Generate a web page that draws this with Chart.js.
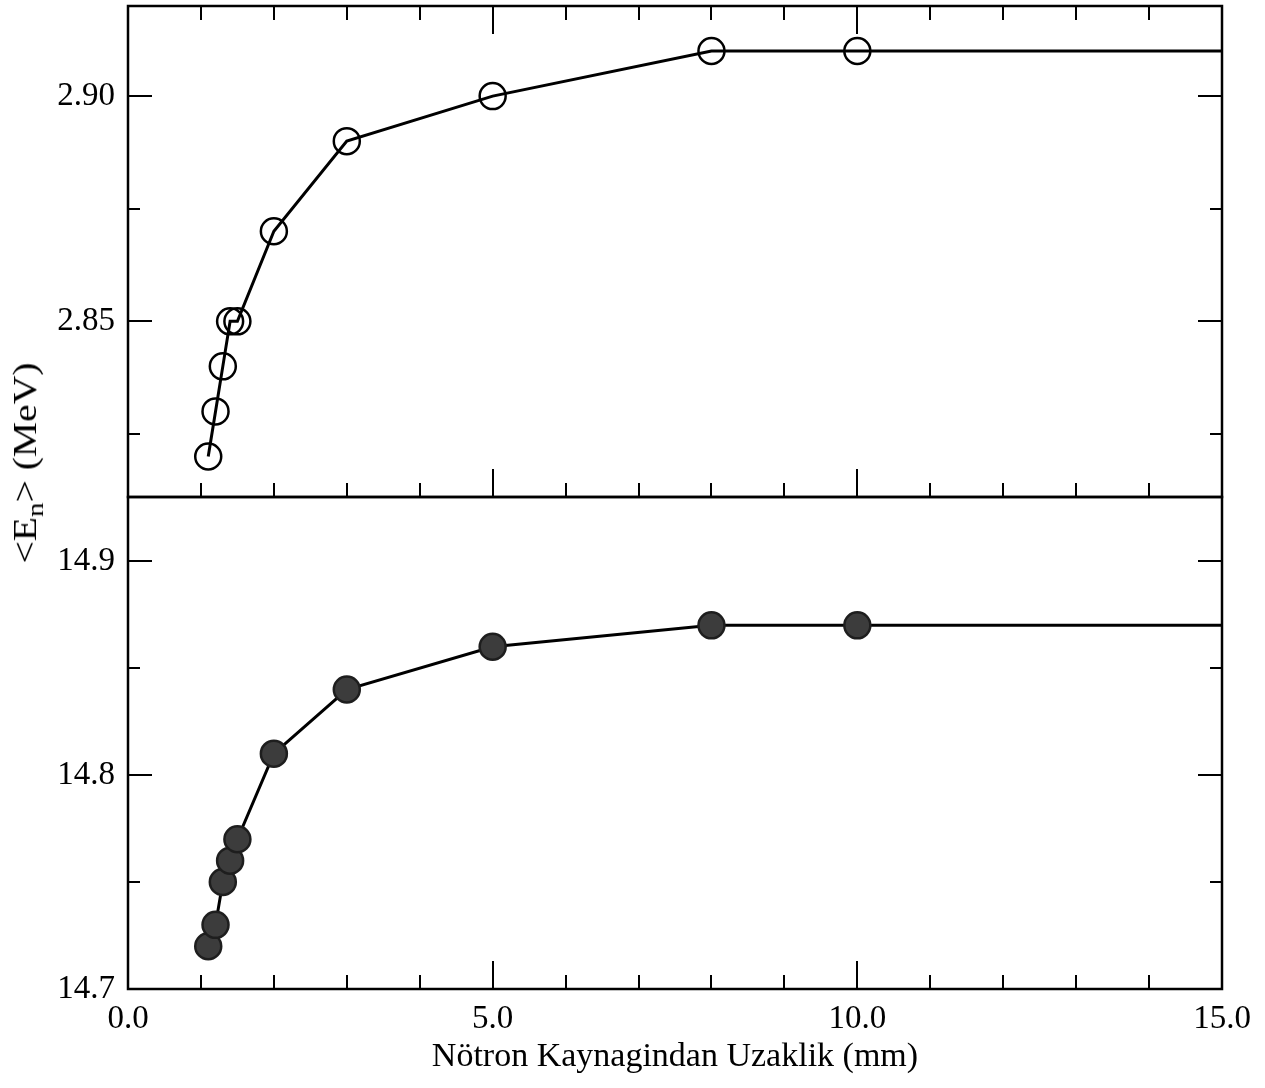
<!DOCTYPE html>
<html>
<head>
<meta charset="utf-8">
<title>Nötron enerjisi</title>
<script src="https://cdn.jsdelivr.net/npm/chart.js@4.4.0/dist/chart.umd.min.js"></script>
<style>
  html, body { margin: 0; padding: 0; background: #fff; }
  #wrap { position: relative; width: 1265px; height: 1088px; }
  #wrap canvas { position: absolute; left: 0; top: 0; }
  #yTitle {
    position: absolute; left: 28px; top: 463px;
    transform: translate(-50%, -50%) rotate(-90deg) scaleX(1.2);
    font-family: 'Liberation Serif', serif; font-size: 33px;
    white-space: nowrap; color: #000;
  }
  #yTitle sub { font-size: 24px; vertical-align: -7px; }
</style>
</head>
<body>
<div id="wrap">
  <canvas id="topChart" width="1265" height="1088"></canvas>
  <canvas id="bottomChart" width="1265" height="1088"></canvas>
  <div id="yTitle">&lt;E<sub>n</sub>&gt; (MeV)</div>
</div>
<script>
// distance from the neutron source (mm); last entry only carries the line to the edge
const distance = [1.1, 1.2, 1.3, 1.4, 1.5, 2.0, 3.0, 5.0, 8.0, 10.0, 15.0];
// mean neutron energy, upper panel (open circles)
const energyLow = [2.82, 2.83, 2.84, 2.85, 2.85, 2.87, 2.89, 2.90, 2.91, 2.91, 2.91];
// mean neutron energy, lower panel (filled circles)
const energyHigh = [14.72, 14.73, 14.75, 14.76, 14.77, 14.81, 14.84, 14.86, 14.87, 14.87, 14.87];

const xLabelEvery = 5;     // 0.0, 5.0, 10.0, 15.0
const FONT = 'Liberation Serif';

function isMultiple(v, step) {
  const r = v / step;
  return Math.abs(r - Math.round(r)) < 1e-6;
}

// frame + inward tick marks, placed with the chart's own scales
const frameTicks = {
  id: 'frameTicks',
  afterDatasetsDraw(chart, args, opts) {
    const { ctx, chartArea: a, scales: { x, y } } = chart;
    ctx.save();
    ctx.strokeStyle = '#000';
    ctx.lineWidth = 2;
    ctx.beginPath();
    for (let v = Math.ceil(x.min / opts.xStep - 1e-9) * opts.xStep; v <= x.max + 1e-9; v += opts.xStep) {
      const px = Math.round(x.getPixelForValue(v));
      const len = isMultiple(v, opts.xMajor) ? 28 : 14;
      if (opts.sides.includes('bottom')) { ctx.moveTo(px, a.bottom); ctx.lineTo(px, a.bottom - len); }
      if (opts.sides.includes('top')) { ctx.moveTo(px, a.top); ctx.lineTo(px, a.top + len); }
    }
    for (let v = Math.ceil(y.min / opts.yStep - 1e-9) * opts.yStep; v <= y.max + 1e-9; v += opts.yStep) {
      const py = Math.round(y.getPixelForValue(v));
      const len = isMultiple(v, opts.yMajor) ? 24 : 12;
      ctx.moveTo(a.left, py); ctx.lineTo(a.left + len, py);
      ctx.moveTo(a.right, py); ctx.lineTo(a.right - len, py);
    }
    ctx.stroke();
    ctx.lineWidth = 2.5;
    ctx.strokeRect(a.left, a.top, a.right - a.left, a.bottom - a.top);
    ctx.restore();
  }
};

function makeDataset(values, fill) {
  return {
    data: distance.map((d, i) => ({ x: d, y: values[i] })),
    borderColor: '#000',
    borderWidth: 3,
    tension: 0,
    pointRadius: c => (c.dataIndex < distance.length - 1 ? 13 : 0),
    pointBorderWidth: 2.5,
    pointBorderColor: fill ? '#1e1e1e' : '#000',
    pointBackgroundColor: fill ? '#3c3c3c' : 'rgba(0,0,0,0)'
  };
}

function yAxis(min, max, step, major, digits) {
  return {
    type: 'linear', position: 'left', min: min, max: max,
    grid: { display: false }, border: { display: false },
    ticks: {
      stepSize: step, autoSkip: false, padding: 5, color: '#000',
      font: { family: FONT, size: 33 },
      callback: v => (isMultiple(v, major) ? v.toFixed(digits) : '')
    },
    afterFit: s => { s.width = 128; s.paddingTop = 0; s.paddingBottom = 0; }
  };
}

function baseOptions() {
  return {
    responsive: false,
    animation: false,
    plugins: { legend: { display: false }, tooltip: { enabled: false } }
  };
}

// upper panel
const topOpts = baseOptions();
topOpts.layout = { autoPadding: false, padding: { top: 6, right: 43, bottom: 591, left: 0 } };
topOpts.scales = {
  x: { type: 'linear', min: 0, max: 15, display: false },
  y: yAxis(2.811, 2.920, 0.025, 0.05, 2)
};
topOpts.plugins.frameTicks = { xStep: 1, xMajor: xLabelEvery, yStep: 0.025, yMajor: 0.05, sides: ['top', 'bottom'] };

new Chart(document.getElementById('topChart'), {
  type: 'line',
  data: { datasets: [makeDataset(energyLow, false)] },
  options: topOpts,
  plugins: [frameTicks]
});

// lower panel
const botOpts = baseOptions();
botOpts.layout = { autoPadding: false, padding: { top: 497, right: 43, bottom: 0, left: 0 } };
botOpts.scales = {
  x: {
    type: 'linear', min: 0, max: 15,
    grid: { display: false }, border: { display: false },
    ticks: {
      stepSize: 1, autoSkip: false, maxRotation: 0, padding: 3, color: '#000',
      font: { family: FONT, size: 33 },
      callback: v => (isMultiple(v, xLabelEvery) ? v.toFixed(1) : '')
    },
    title: {
      display: true, text: 'Nötron Kaynagindan Uzaklik (mm)', color: '#000',
      font: { family: FONT, size: 34 }, padding: { top: 0, bottom: 11 }
    },
    afterFit: s => { s.height = 99; s.paddingLeft = 0; s.paddingRight = 0; }
  },
  y: yAxis(14.7, 14.93, 0.05, 0.1, 1)
};
botOpts.plugins.frameTicks = { xStep: 1, xMajor: xLabelEvery, yStep: 0.05, yMajor: 0.1, sides: ['bottom'] };

new Chart(document.getElementById('bottomChart'), {
  type: 'line',
  data: { datasets: [makeDataset(energyHigh, true)] },
  options: botOpts,
  plugins: [frameTicks]
});
</script>
</body>
</html>
